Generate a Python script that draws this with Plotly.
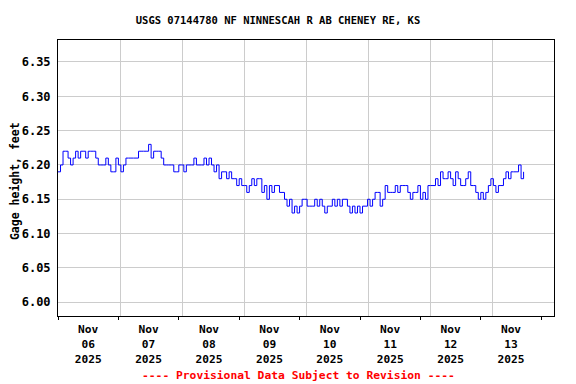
import pandas as pd
import plotly.graph_objects as go

# ---- data (hourly gage height, feet) ----
start_time = "2025-11-06 00:00"
gage_height = [
    6.19, 6.20, 6.22, 6.22, 6.21, 6.20, 6.21, 6.22, 6.21, 6.22, 6.22, 6.21,
    6.22, 6.22, 6.22, 6.21, 6.20, 6.20, 6.20, 6.21, 6.20, 6.19, 6.19, 6.21,
    6.20, 6.19, 6.20, 6.21, 6.21, 6.21, 6.21, 6.21, 6.22, 6.22, 6.22, 6.22,
    6.23, 6.21, 6.22, 6.22, 6.22, 6.21, 6.20, 6.20, 6.20, 6.20, 6.19, 6.19,
    6.20, 6.20, 6.19, 6.20, 6.20, 6.20, 6.21, 6.20, 6.20, 6.20, 6.21, 6.20,
    6.21, 6.20, 6.19, 6.20, 6.18, 6.19, 6.19, 6.18, 6.19, 6.18, 6.18, 6.17,
    6.18, 6.17, 6.17, 6.16, 6.17, 6.18, 6.17, 6.18, 6.18, 6.16, 6.17, 6.15,
    6.17, 6.16, 6.17, 6.17, 6.16, 6.16, 6.15, 6.14, 6.15, 6.13, 6.14, 6.13,
    6.14, 6.15, 6.15, 6.14, 6.14, 6.14, 6.15, 6.14, 6.15, 6.14, 6.13, 6.14,
    6.14, 6.15, 6.14, 6.15, 6.14, 6.15, 6.15, 6.14, 6.13, 6.14, 6.13, 6.14,
    6.13, 6.14, 6.14, 6.15, 6.14, 6.15, 6.16, 6.16, 6.14, 6.15, 6.17, 6.16,
    6.16, 6.16, 6.17, 6.16, 6.17, 6.17, 6.17, 6.16, 6.15, 6.16, 6.16, 6.17,
    6.15, 6.16, 6.15, 6.17, 6.17, 6.17, 6.18, 6.17, 6.19, 6.18, 6.18, 6.19,
    6.18, 6.17, 6.19, 6.18, 6.17, 6.17, 6.18, 6.19, 6.17, 6.17, 6.16, 6.15,
    6.16, 6.15, 6.16, 6.17, 6.18, 6.17, 6.16, 6.17, 6.17, 6.18, 6.19, 6.18,
    6.19, 6.19, 6.19, 6.20, 6.18, 6.19,
]
times = pd.date_range(start_time, periods=len(gage_height), freq="h")

title_text = "USGS 07144780 NF NINNESCAH R AB CHENEY RE, KS"
y_title = "Gage height, feet"
footer_text = "---- Provisional Data Subject to Revision ----"
x_range = ["2025-11-06 00:00", "2025-11-14 05:05"]
y_range = [5.98, 6.382]

FONT = "DejaVu Sans Mono"
W, H = 568, 376  # page body has an 8px margin

fig = go.Figure()
# invisible trace anchoring the base (grid) axis
fig.add_trace(go.Scatter(x=[], y=[], xaxis="x", yaxis="y", showlegend=False, hoverinfo="skip"))
fig.add_trace(go.Scatter(
    x=times, y=gage_height, mode="lines", xaxis="x2", yaxis="y",
    line=dict(color="#0000ff", width=1, shape="hv"), showlegend=False,
))

fig.update_layout(
    width=W, height=H,
    margin=dict(l=50, r=22, t=32, b=68, autoexpand=False),
    paper_bgcolor="white", plot_bgcolor="white",
    font=dict(family=FONT, color="black", weight="bold"),
    showlegend=False,
    title=dict(text=title_text, x=270 / W, xref="container", xanchor="center",
               y=1 - 12 / H, yref="container", yanchor="middle", automargin=False,
               font=dict(family=FONT, size=10.5, color="black", weight="bold")),
    xaxis=dict(range=[0, 8], dtick=1, tick0=0, showgrid=True, gridcolor="#cccccc",
               gridwidth=1, showticklabels=False, ticks="", zeroline=False,
               showline=True, mirror=True, linecolor="black", linewidth=1,
               automargin=False),
    xaxis2=dict(type="date", overlaying="x", anchor="y", side="bottom",
                range=x_range, showgrid=False, zeroline=False, showline=False,
                ticks="outside", ticklen=3, tickcolor="black",
                dtick=86400000, tick0="2025-11-06", ticklabelmode="period",
                tickformat="%b<br>%d<br>%Y", automargin=False,
                tickfont=dict(family=FONT, size=11.2, color="black", weight="bold")),
    yaxis=dict(range=y_range, dtick=0.05, tick0=6.0, tickformat=".2f",
               showgrid=True, gridcolor="#cccccc", gridwidth=1, zeroline=False,
               showline=True, mirror=True, linecolor="black", linewidth=1,
               ticks="", ticklabelstandoff=4, automargin=False,
               tickfont=dict(family=FONT, size=12, color="black", weight="bold")),
    annotations=[
        dict(text=y_title, xref="paper", yref="paper", x=(6.5 - 50) / 496, y=0.487,
             xanchor="center", yanchor="middle", textangle=-90, showarrow=False,
             font=dict(family=FONT, size=11.5, color="black", weight="bold")),
        dict(text=footer_text, xref="paper", yref="paper",
             x=0.4853, y=-0.2138, xanchor="center", yanchor="middle",
             showarrow=False,
             font=dict(family=FONT, size=11.3, color="#ff0000", weight="bold")),
    ],
)

fig.write_html("out.html")
